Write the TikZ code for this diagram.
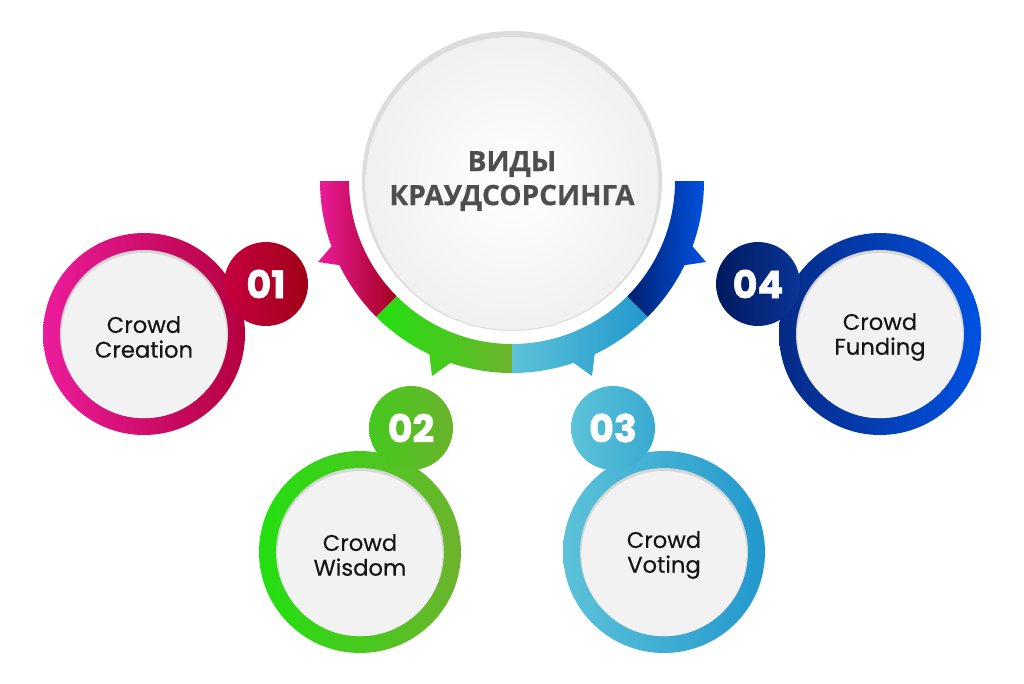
\documentclass[tikz,border=0pt]{standalone}
\usepackage{fontspec}
\setmainfont{Poppins}
\newfontfamily\titlefont{Open Sans}[BoldFeatures={FakeBold=0.6}]
\newfontfamily\itemfont{Poppins}[FakeBold=0.35]
\newfontfamily\numfont{Poppins}[BoldFeatures={FakeBold=1.6}]
\usetikzlibrary{calc}
\definecolor{pinkL}{HTML}{EC1C9C}
\definecolor{pinkR}{HTML}{A3001E}
\definecolor{greenL}{HTML}{22E010}
\definecolor{greenR}{HTML}{6DB32C}
\definecolor{cyanL}{HTML}{5CC2D9}
\definecolor{cyanR}{HTML}{2298CD}
\definecolor{navyL}{HTML}{00206E}
\definecolor{navyR}{HTML}{0052E2}
\definecolor{b1L}{HTML}{C6003F}
\definecolor{b1R}{HTML}{A00018}
\definecolor{b2L}{HTML}{45C81F}
\definecolor{b2R}{HTML}{6AB42A}
\definecolor{b3L}{HTML}{5CC3D8}
\definecolor{b3R}{HTML}{38AAD0}
\definecolor{b4L}{HTML}{001A5E}
\definecolor{b4R}{HTML}{0A3496}
\definecolor{r1R}{HTML}{B4003E}
\definecolor{r4L}{HTML}{062A86}
\definecolor{titlegray}{HTML}{4E4E4E}
\definecolor{textblack}{HTML}{151515}
\definecolor{facegray}{HTML}{F2F2F2}
\definecolor{rimgray}{HTML}{D6D6D6}
\tikzset{
  itemtext/.style={align=center, text=textblack, font=\itemfont\fontsize{17}{18.6}\selectfont, inner sep=0pt},
  numtext/.style={text=white, font=\numfont\bfseries\fontsize{28.5}{28.5}\selectfont, inner sep=0pt},
  titletext/.style={align=center, text=titlegray, font=\titlefont\bfseries\fontsize{21}{25.5}\selectfont, inner sep=0pt},
}
\newcommand\crowditem[9]{%
  \path[left color=#2, right color=#3] (#1) circle (101);
  \path[left color=#5, right color=#6] (#4) circle (42);
  \fill[rimgray] (#1) circle (84);
  \fill[facegray] ($(#1)+(0,-1.6)$) circle (82.6);
  \node[numtext] (n#9) at (#4) {#7};
  \node[itemtext] (t#9) at ($(#1)+(0,-3)$) {#8};
}
\begin{document}
\begin{tikzpicture}[x=0.75pt,y=0.75pt]
\useasboundingbox (0,0) rectangle (1024,-683);
\fill[white] (0,0) rectangle (1024,-683);
\coordinate (C) at (512,-181);
% central white circle
\fill[rimgray!85] (C) circle (150);
\shade[inner color=white, outer color=facegray!90!gray!60] ($(C)+(0,-2.5)$) circle (146.5);
% arc segments
\path[left color=pinkL, right color=pinkR]
  ($(C)+(180:192)$) arc[start angle=180,end angle=199.9,radius=192]
  -- (318,-262) -- ($(C)+(206:192)$) arc[start angle=206,end angle=225,radius=192]
  -- ($(C)+(225:163)$) arc[start angle=225,end angle=180,radius=163] -- cycle;
\path[left color=greenL, right color=greenR]
  ($(C)+(225:192)$) arc[start angle=225,end angle=244.5,radius=192]
  -- (432,-376) -- ($(C)+(251.3:192)$) arc[start angle=251.3,end angle=270,radius=192]
  -- ($(C)+(270:163)$) arc[start angle=270,end angle=225,radius=163] -- cycle;
\path[left color=cyanL, right color=cyanR]
  ($(C)+(270:192)$) arc[start angle=270,end angle=288.7,radius=192]
  -- (592,-376) -- ($(C)+(295.5:192)$) arc[start angle=295.5,end angle=315,radius=192]
  -- ($(C)+(315:163)$) arc[start angle=315,end angle=270,radius=163] -- cycle;
\path[left color=navyL, right color=navyR]
  ($(C)+(315:192)$) arc[start angle=315,end angle=334,radius=192]
  -- (706,-262) -- ($(C)+(340.1:192)$) arc[start angle=340.1,end angle=360,radius=192]
  -- ($(C)+(360:163)$) arc[start angle=360,end angle=315,radius=163] -- cycle;
% title
\node[titletext] (title) at (512,-181) {ВИДЫ\\КРАУДСОРСИНГА};
% items
\coordinate (c1) at (144,-334);  \coordinate (k1) at (266,-284);
\coordinate (c2) at (360,-552);  \coordinate (k2) at (411,-428);
\coordinate (c3) at (664,-552);  \coordinate (k3) at (613,-428);
\coordinate (c4) at (880,-334);  \coordinate (k4) at (758,-284);
\crowditem{c1}{pinkL}{r1R}{k1}{b1L}{b1R}{01}{Crowd\\Creation}{a}
\crowditem{c2}{greenL}{greenR}{k2}{b2L}{b2R}{02}{Crowd\\Wisdom}{b}
\crowditem{c3}{cyanL}{cyanR}{k3}{b3L}{b3R}{03}{Crowd\\Voting}{c}
\crowditem{c4}{r4L}{navyR}{k4}{b4L}{b4R}{04}{Crowd\\Funding}{d}
\end{tikzpicture}
\end{document}
